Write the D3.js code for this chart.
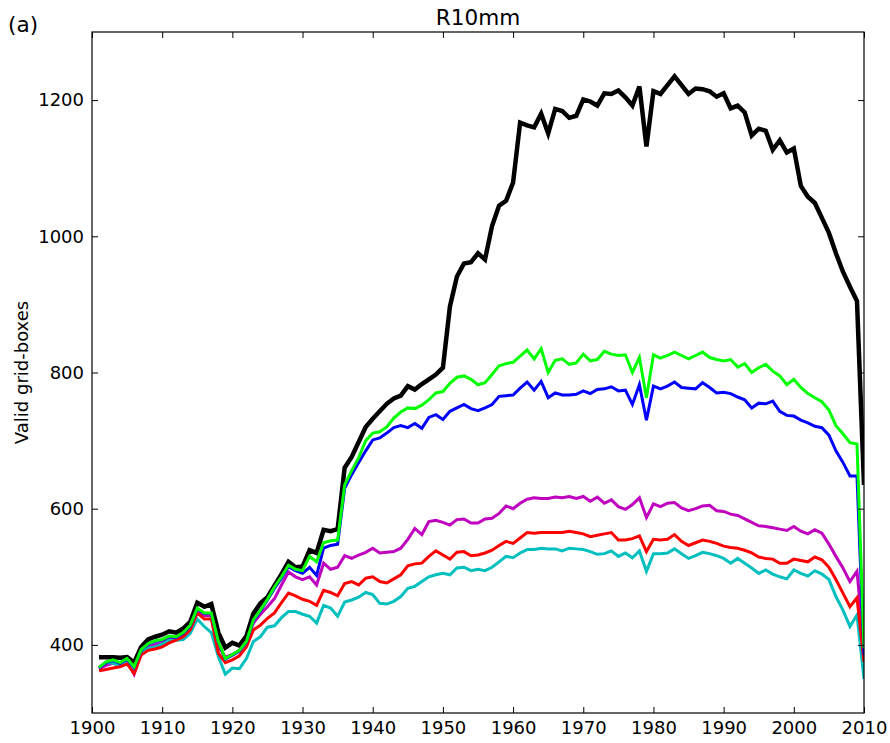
<!DOCTYPE html>
<html>
<head>
<meta charset="utf-8">
<script src="https://cdn.jsdelivr.net/npm/d3@7"></script>
<style>
  body { margin: 0; background: #fff; }
  text { font-family: "DejaVu Sans", sans-serif; fill: #000; }
</style>
</head>
<body>
<div id="chart"></div>
<script>
// R10mm: valid grid-boxes per year, six series
const years = d3.range(1901, 2011);

const black = [
  382, 382, 382, 381, 382, 374, 397, 408, 412, 415, 420, 418, 424, 434, 462, 456, 460, 418, 396, 403, 399, 413, 446, 461, 470,
  487, 504, 522, 514, 515, 539, 535, 569, 567, 570,
  660, 676, 698, 720, 732, 743, 754, 762, 766, 780, 775, 783, 790, 797, 807,
  897, 941, 960, 962, 975, 966, 1015, 1045, 1052, 1079, 1167, 1163, 1160, 1180, 1151, 1187, 1184, 1174, 1177, 1201, 1198, 1192, 1210, 1209, 1214, 1204, 1192, 1220, 1132, 1213,
  1209, 1222, 1235, 1222, 1209, 1217, 1216, 1213, 1205, 1210, 1188, 1192, 1182, 1148, 1158, 1155, 1127, 1141, 1123, 1129, 1074, 1058, 1049, 1027, 1005, 975, 948, 926, 905, 635,
];
const green = [
  367, 375, 378, 374, 380, 368, 393, 402, 406, 408, 413, 412, 418, 429, 454, 447, 447, 405, 380, 386, 392, 405, 437, 451, 467,
  485, 500, 517, 511, 509, 530, 522, 550, 553, 554,
  635, 656, 675, 700, 711, 713, 720, 733, 742, 748, 747, 752, 760, 770, 772,
  784, 793, 795, 790, 782, 785, 797, 810, 813, 815, 824, 833, 820, 835, 800, 818, 820, 812, 814, 827, 817, 819, 831, 827, 825, 826, 800, 822, 763, 826,
  821, 825, 830, 825, 820, 825, 830, 822, 819, 817, 819, 808, 813, 800, 807, 812, 802, 795, 782, 790, 778, 769, 763, 757, 745, 722, 710, 697, 695, 395,
];
const blue = [
  366, 374, 377, 373, 379, 367, 392, 401, 405, 407, 412, 411, 417, 428, 453, 446, 446, 404, 379, 385, 391, 404, 436, 450, 466,
  483, 498, 515, 509, 505, 514, 502, 542, 546, 548,
  630, 650, 668, 685, 701, 704, 711, 719, 722, 719, 725, 718, 734, 738, 731,
  743, 748, 753, 747, 744, 748, 753, 765, 766, 767, 777, 786, 774, 787, 763, 770, 767, 767, 768, 773, 769, 775, 776, 779, 773, 774, 753, 782, 730, 780,
  776, 780, 786, 778, 777, 776, 785, 778, 770, 771, 769, 764, 760, 748, 755, 754, 758, 743, 737, 736, 730, 726, 721, 719, 708, 685, 668, 648, 648, 385,
];
const magenta = [
  365, 370, 373, 372, 377, 357, 388, 397, 400, 403, 410, 410, 415, 427, 450, 443, 443, 398, 382, 386, 392, 405, 432, 445, 456,
  468, 488, 507, 500, 496, 500, 488, 520, 511, 514,
  531, 527, 532, 536, 542, 535, 536, 537, 542, 555, 571, 562, 581, 583, 580,
  576, 584, 585, 579, 579, 585, 586, 593, 604, 600, 608, 614, 616, 615, 615, 617, 616, 618, 615, 618, 611, 617, 608, 613, 603, 599, 606, 616, 587, 607,
  603, 608, 609, 601, 597, 600, 604, 605, 597, 596, 592, 590, 585, 580, 575, 574, 572, 570, 568, 574, 567, 563, 569, 564, 548, 530, 513, 493, 508, 400,
];
const red = [
  362, 364, 366, 368, 372, 358, 385, 392, 394, 397, 403, 407, 412, 422, 447, 438, 438, 388, 374, 378, 384, 397, 422, 429, 439,
  447, 462, 476, 472, 467, 464, 458, 480, 477, 472,
  490, 493, 488, 498, 500, 493, 491, 497, 503, 516, 519, 520, 530, 538, 532,
  526, 536, 537, 531, 532, 535, 539, 546, 552, 549, 557, 565, 564, 565, 565, 565, 565, 567, 565, 563, 559, 561, 563, 565, 554, 554, 556, 560, 537, 555,
  554, 555, 562, 552, 546, 550, 554, 552, 549, 545, 543, 542, 539, 535, 529, 527, 526, 520, 520, 526, 524, 522, 529, 525, 514, 496, 476, 456, 469, 375,
];
const cyan = [
  367, 374, 373, 369, 378, 363, 390, 395, 397, 401, 407, 407, 408, 417, 438, 427, 418, 383, 357, 366, 365, 380, 405, 412, 426,
  428, 440, 449, 449, 445, 442, 432, 458, 454, 442,
  463, 466, 470, 477, 474, 461, 460, 464, 471, 483, 486, 493, 500, 503, 505,
  503, 513, 514, 509, 511, 509, 514, 522, 530, 528, 535, 540, 540, 542, 541, 541, 538, 542, 541, 540, 537, 533, 534, 538, 530, 535, 528, 538, 508, 534,
  534, 535, 541, 534, 527, 531, 536, 534, 531, 527, 520, 527, 520, 513, 505, 510, 504, 500, 497, 510, 505, 501, 509, 504, 496, 471, 451, 427, 444, 350,
];

const xTicks = d3.range(1900, 2011, 10);
const yTicks = [400, 600, 800, 1000, 1200];

// drawing order: first is bottom
const series = [
  { values: black, color: '#000000', width: 4.5 },
  { values: magenta, color: '#bf00bf', width: 3 },
  { values: cyan, color: '#00bfbf', width: 3 },
  { values: red, color: '#ff0000', width: 3 },
  { values: blue, color: '#0000ff', width: 3 },
  { values: green, color: '#00ff00', width: 3 },
];

const width = 890;
const height = 743;
const margin = { top: 32, right: 26, bottom: 30, left: 92 };

const x = d3.scaleLinear()
  .domain([1900, 2010])
  .range([margin.left, width - margin.right]);

const y = d3.scaleLinear()
  .domain([300, 1300])
  .range([height - margin.bottom, margin.top]);

const svg = d3.select('#chart').append('svg')
  .attr('width', width)
  .attr('height', height);

svg.append('rect')
  .attr('width', width)
  .attr('height', height)
  .attr('fill', '#fff');

svg.append('clipPath')
  .attr('id', 'plot-clip')
  .append('rect')
  .attr('x', margin.left)
  .attr('y', margin.top)
  .attr('width', width - margin.left - margin.right)
  .attr('height', height - margin.top - margin.bottom);

const line = d3.line()
  .x((d, i) => x(years[i]))
  .y(d => y(d));

svg.append('g')
  .attr('clip-path', 'url(#plot-clip)')
  .selectAll('path')
  .data(series)
  .join('path')
  .attr('fill', 'none')
  .attr('stroke', d => d.color)
  .attr('stroke-width', d => d.width)
  .attr('stroke-linejoin', 'miter')
  .attr('d', d => line(d.values));

// axes, ticks pointing inward on all four sides
const tickLen = 6;

svg.append('g')
  .attr('transform', `translate(0,${height - margin.bottom})`)
  .call(d3.axisBottom(x).tickValues(xTicks).tickFormat(d3.format('d'))
    .tickSize(-tickLen).tickSizeOuter(0).tickPadding(8))
  .call(g => g.select('.domain').remove())
  .call(g => g.selectAll('text').attr('font-size', 18).attr('font-family', 'DejaVu Sans'));

svg.append('g')
  .attr('transform', `translate(0,${margin.top})`)
  .call(d3.axisTop(x).tickValues(xTicks).tickFormat('')
    .tickSize(-tickLen).tickSizeOuter(0))
  .call(g => g.select('.domain').remove());

svg.append('g')
  .attr('transform', `translate(${margin.left},0)`)
  .call(d3.axisLeft(y).tickValues(yTicks).tickFormat(d3.format('d'))
    .tickSize(-tickLen).tickSizeOuter(0).tickPadding(8))
  .call(g => g.select('.domain').remove())
  .call(g => g.selectAll('text').attr('font-size', 18).attr('font-family', 'DejaVu Sans'));

svg.append('g')
  .attr('transform', `translate(${width - margin.right},0)`)
  .call(d3.axisRight(y).tickValues(yTicks).tickFormat('')
    .tickSize(-tickLen).tickSizeOuter(0))
  .call(g => g.select('.domain').remove());

svg.append('rect')
  .attr('x', margin.left)
  .attr('y', margin.top)
  .attr('width', width - margin.left - margin.right)
  .attr('height', height - margin.top - margin.bottom)
  .attr('fill', 'none')
  .attr('stroke', '#000')
  .attr('stroke-width', 1.2);

svg.append('text')
  .attr('x', (margin.left + width - margin.right) / 2)
  .attr('y', 25)
  .attr('text-anchor', 'middle')
  .attr('font-size', 21.6)
  .text('R10mm');

svg.append('text')
  .attr('x', 8)
  .attr('y', 32)
  .attr('font-size', 21.6)
  .text('(a)');

svg.append('text')
  .attr('transform', `translate(28,${(margin.top + height - margin.bottom) / 2}) rotate(-90)`)
  .attr('text-anchor', 'middle')
  .attr('font-size', 18)
  .text('Valid grid-boxes');
</script>
</body>
</html>
